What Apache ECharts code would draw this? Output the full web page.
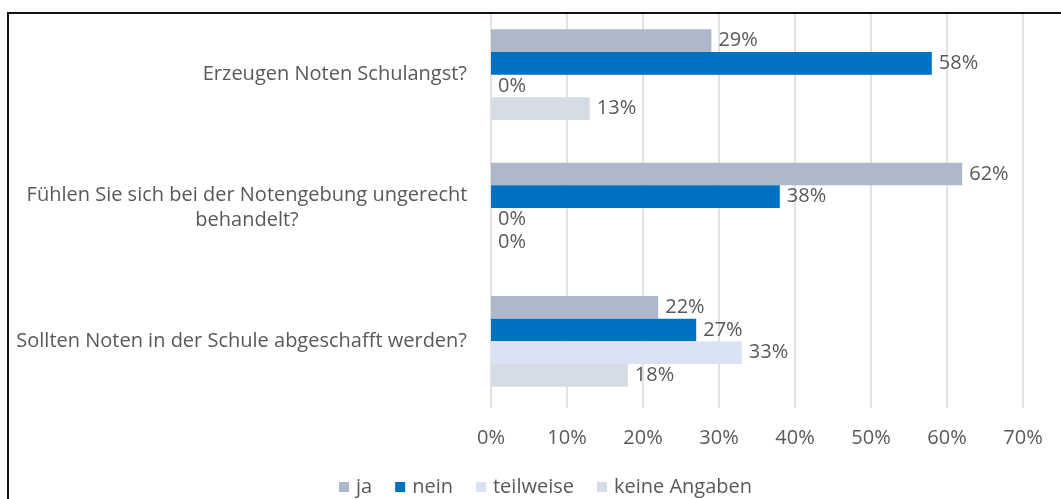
<!DOCTYPE html>
<html lang="de">
<head>
  <meta charset="UTF-8" />
  <title>Noten Umfrage</title>
  <script src="https://cdn.jsdelivr.net/npm/echarts@6/dist/echarts.min.js"></script>
  <style>
    body { margin: 0; background: #fff; }
    #frame {
      position: absolute;
      left: 7px;
      top: 12px;
      width: 1100px;
      height: 600px;
      border: 2px solid #111;
      overflow: hidden;
    }
    #chart {
      position: absolute;
      left: -9px;
      top: -14px;
      width: 1061px;
      height: 499px;
    }
  </style>
</head>
<body>
  <div id="frame"><div id="chart"></div></div>
  <script>
    const questions = [
      'Erzeugen Noten Schulangst?',
      'Fühlen Sie sich bei der Notengebung ungerecht\nbehandelt?',
      'Sollten Noten in der Schule abgeschafft werden?'
    ];
    const seriesNames = ['ja', 'nein', 'teilweise', 'keine Angaben'];
    const jaValues = [29, 62, 22];
    const neinValues = [58, 38, 27];
    const teilweiseValues = [0, 0, 33];
    const keineValues = [13, 0, 18];
    const colors = ['#ADB9CA', '#0070C0', '#DAE3F3', '#D6DCE5'];
    const xTicks = [0, 10, 20, 30, 40, 50, 60, 70];

    const font = "'Open Sans', sans-serif";
    const textColor = '#595959';

    const chart = echarts.init(document.getElementById('chart'));
    const allValues = [jaValues, neinValues, teilweiseValues, keineValues];

    chart.setOption({
      animation: false,
      color: colors,
      textStyle: { fontFamily: font },
      grid: { left: 491, right: 38, top: 8, bottom: 91 },
      legend: {
        bottom: -3,
        left: 334,
        itemWidth: 10,
        itemHeight: 10,
        itemGap: 23,
        icon: 'rect',
        textStyle: { color: textColor, fontSize: 20, fontFamily: font, padding: [0, 0, 0, 2] },
        data: seriesNames
      },
      xAxis: {
        type: 'value',
        min: xTicks[0],
        max: xTicks[xTicks.length - 1],
        interval: 10,
        axisLine: { show: false },
        axisTick: { show: false },
        splitLine: { lineStyle: { color: '#D9D9D9', width: 1.5 } },
        axisLabel: {
          color: textColor, fontSize: 20, margin: 20,
          formatter: v => v + '%'
        }
      },
      yAxis: {
        type: 'category',
        inverse: true,
        data: questions,
        axisLine: { show: false },
        axisTick: { show: false },
        axisLabel: {
          color: textColor, fontSize: 20, margin: 24, lineHeight: 25,
          align: 'right',
          formatter: v => v.indexOf('\n') < 0 ? v :
            v.split('\n').map(s => '{c|' + s + '}').join('\n'),
          rich: {
            c: { width: 440, align: 'center', fontSize: 20, lineHeight: 25, color: textColor }
          }
        }
      },
      series: seriesNames.map((name, i) => ({
        name,
        type: 'bar',
        data: allValues[i],
        barGap: '0%',
        barCategoryGap: '32%',
        label: {
          show: true,
          position: 'right',
          distance: 7,
          color: textColor,
          fontSize: 20,
          formatter: p => p.value + '%'
        }
      }))
    });
  </script>
</body>
</html>
